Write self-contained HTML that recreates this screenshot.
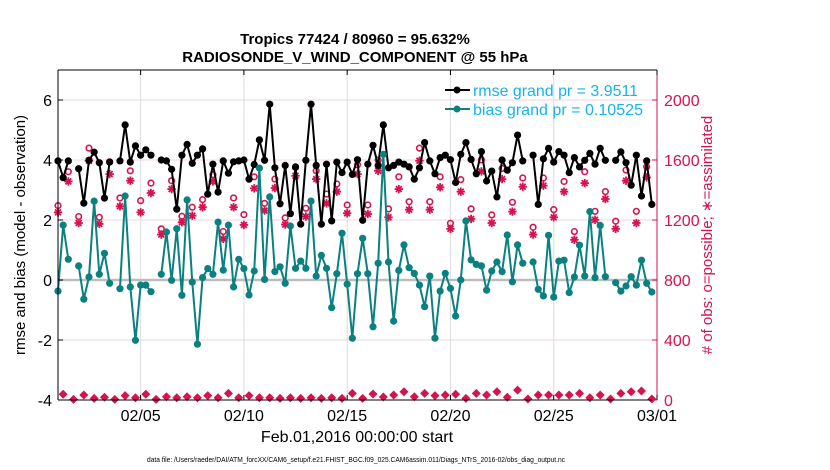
<!DOCTYPE html>
<html><head><meta charset="utf-8">
<style>
html,body{margin:0;padding:0;background:#fff;}
svg{display:block;font-family:"Liberation Sans",Arial,sans-serif;}
</style></head>
<body>
<svg id="chart" width="830" height="470" viewBox="0 0 830 470">
<g id="grid"></g>
<g id="series"></g>
<g id="axes"></g>
<text x="355" y="44" text-anchor="middle" font-size="15" font-weight="bold">Tropics 77424 / 80960 = 95.632%</text>
<text x="355" y="62" text-anchor="middle" font-size="15" font-weight="bold">RADIOSONDE_V_WIND_COMPONENT @ 55 hPa</text>
<text transform="translate(25,235) rotate(-90)" text-anchor="middle" font-size="15">rmse and bias (model - observation)</text>
<text transform="translate(712,235) rotate(-90)" text-anchor="middle" font-size="15" fill="#d6124f"># of obs: o=possible; ∗=assimilated</text>
<text x="357" y="442" text-anchor="middle" font-size="16">Feb.01,2016 00:00:00 start</text>
<text x="147" y="462" font-size="7.3" textLength="418" lengthAdjust="spacingAndGlyphs">data file: /Users/raeder/DAI/ATM_forcXX/CAM6_setup/f.e21.FHIST_BGC.f09_025.CAM6assim.011/Diags_NTrS_2016-02/obs_diag_output.nc</text>
<g>
<line x1="445" y1="90" x2="470" y2="90" stroke="#000" stroke-width="2"/>
<circle cx="457" cy="90" r="3.5" fill="#000"/>
<text x="473" y="96" font-size="16" fill="#16b4ee" textLength="165" lengthAdjust="spacingAndGlyphs">rmse grand pr = 3.9511</text>
<line x1="445" y1="109" x2="470" y2="109" stroke="#0a8080" stroke-width="2"/>
<circle cx="457" cy="109" r="3.5" fill="#0a8080"/>
<text x="473" y="115" font-size="16" fill="#16b4ee" textLength="170" lengthAdjust="spacingAndGlyphs">bias grand pr = 0.10525</text>
</g>
</svg>
<script>
const leftTicks=[-4,-2,0,2,4,6];
const rightTicks=[0,400,800,1200,1600,2000];
const dateTicks=[4,9,14,19,24,29];
const dateLabels=["02/05","02/10","02/15","02/20","02/25","03/01"];
const rmse=[3.97,3.41,3.97,null,3.71,2.56,3.99,4.26,3.91,2.73,3.93,null,3.97,5.17,3.93,4.47,4.16,4.34,4.16,null,4.0,3.97,3.69,2.36,4.16,4.52,3.89,4.16,4.37,2.86,3.86,2.93,3.97,3.56,3.94,3.97,4.0,3.36,3.85,4.67,3.99,5.86,3.74,2.54,3.82,2.21,3.77,1.86,3.99,5.86,3.82,1.86,3.86,1.97,3.93,3.58,3.93,3.52,4.01,1.99,3.86,4.49,3.82,5.17,3.74,3.82,3.93,3.86,3.77,3.36,3.74,4.58,3.97,3.54,4.08,4.16,4.01,3.25,4.19,4.58,4.02,3.54,4.28,3.3,3.63,2.77,4.0,3.66,3.91,4.83,3.97,null,4.16,2.52,4.04,4.39,3.93,4.28,4.16,3.58,4.08,3.77,3.99,4.22,3.86,4.39,3.99,null,3.99,4.27,3.91,3.16,4.16,2.8,3.97,2.52];
const bias=[-0.37,1.83,0.69,null,0.47,-0.64,0.1,2.63,0.19,0.89,-0.11,null,-0.29,2.8,-0.23,-2.01,-0.17,-0.17,-0.39,null,0.19,1.6,-0.01,1.71,-0.51,2.67,-0.07,-2.14,0.08,0.38,0.19,1.93,0.33,1.83,-0.23,0.69,0.38,-0.5,0.3,3.73,0.02,2.77,0.28,0.44,-0.11,1.8,0.39,0.63,0.39,2.63,0.13,0.82,0.39,-0.92,0.21,1.56,-0.14,-1.94,0.21,1.39,0.21,-1.56,0.56,4.19,0.6,-1.37,0.32,1.17,0.41,0.22,-0.17,-0.89,0.13,-1.94,-0.37,0.22,-0.28,-1.2,0.0,1.97,0.67,0.52,0.47,-0.34,0.3,0.6,0.28,1.5,-0.06,1.17,0.56,null,0.6,-0.31,-0.53,1.49,-0.57,0.63,0.66,-0.42,0.1,1.16,0.13,2.28,0.08,1.82,0.11,null,-0.09,-0.37,-0.2,0.11,-0.17,0.66,-0.11,-0.4];
const possible=[1296,1522,1223,1679,1218,1588,1347,1528,1329,1446,1141,1462,1225,1285,1336,1502,1123,1347,1236,1488,1311,1473,1214,1550,1278,1528,1373,1440,1300,1568,1300,1599,1274,1488,1322,1679,1322,1488,1178,1469,1274,1601,1234,1544,1318,1480,1152,1480,1269,1457,1123,1522,1258,1389,1192,1533,1258,1555];
const assimilated=[1251,1457,1180,1595,1174,1506,1291,1462,1251,1380,1103,1406,1185,1229,1285,1457,1074,1285,1167,1411,1263,1413,1170,1495,1223,1473,1311,1389,1245,1506,1240,1528,1218,1406,1269,1595,1269,1418,1141,1389,1207,1524,1180,1473,1256,1422,1103,1429,1218,1389,1068,1446,1201,1340,1141,1462,1180,1484];
const otherCounts=[38,4,33,11,18,4,29,15,38,4,22,15,22,15,29,15,44,15,29,15,15,11,15,11,15,11,15,11,44,11,40,20,33,55,22,44,29,33,38,11,44,33,55,18,66,7,33,33,33,33,44,15,33,7,44,55,60,7];

const NS='http://www.w3.org/2000/svg';
const X0=58,X1=657,Y0=70,Y1=400;
const xDay=d=>X0+(X1-X0)*d/29;
const xIdx=i=>xDay(i/4);
const yL=v=>Y1-(v+4)*(Y1-Y0)/11;
const yR=c=>Y1-c*(Y1-Y0)/2200;
const PINK='#d6124f',TEAL='#0a8080';
function mk(tag,attrs,parent){const e=document.createElementNS(NS,tag);for(const k in attrs)e.setAttribute(k,attrs[k]);parent.appendChild(e);return e;}
const grid=document.getElementById('grid'),ser=document.getElementById('series'),ax=document.getElementById('axes');

leftTicks.forEach(v=>{if(v===-4||v===0)return;
 const l=mk('line',{x1:X0,x2:X1,y1:yL(v),y2:yL(v),stroke:'#f0d4df','stroke-width':1},grid);
 
 });
dateTicks.forEach(d=>{
 const l=mk('line',{x1:xDay(d),x2:xDay(d),y1:Y0,y2:Y1,stroke:'#dcdcdc','stroke-width':1},grid);
 
 });
const zl=mk('line',{x1:X0,x2:X1,y1:yL(0),y2:yL(0),stroke:'#bdbdbd','stroke-width':2.5},grid);



function drawLine(arr,color,name){
 let segs=[],cur=[];
 arr.forEach((v,i)=>{if(v===null){if(cur.length)segs.push(cur);cur=[];}else cur.push([xIdx(i),yL(v)]);});
 if(cur.length)segs.push(cur);
 segs.forEach(s=>{const p=mk('polyline',{points:s.map(q=>q.join(',')).join(' '),fill:'none',stroke:color,'stroke-width':2,'stroke-linejoin':'round'},ser);
  
  });
 arr.forEach((v,i)=>{if(v===null)return;
  const c=mk('circle',{cx:xIdx(i),cy:yL(v),r:3.6,fill:color},ser);
  
  });
}
possible.forEach((c,k)=>{
 const e=mk('circle',{cx:xIdx(2*k),cy:yR(c),r:2.8,fill:'none',stroke:PINK,'stroke-width':1.6},ser);
 
 });
assimilated.forEach((c,k)=>{
 const x=xIdx(2*k),y=yR(c),r=4.2;
 const g=mk('g',{stroke:PINK,'stroke-width':1.8},ser);
 
 
 mk('line',{x1:x-r,x2:x+r,y1:y,y2:y},g);
 mk('line',{x1:x,x2:x,y1:y-r,y2:y+r},g);
 mk('line',{x1:x-r*0.7,x2:x+r*0.7,y1:y-r*0.7,y2:y+r*0.7},g);
 mk('line',{x1:x-r*0.7,x2:x+r*0.7,y1:y+r*0.7,y2:y-r*0.7},g);});
otherCounts.forEach((c,k)=>{
 const x=xIdx(2*k+1),y=yR(c),s=4.5;
 const p=mk('polygon',{points:`${x},${y-s} ${x+s},${y} ${x},${y+s} ${x-s},${y}`,fill:PINK},ser);
 
 });
drawLine(rmse,'#000','rmse');
drawLine(bias,TEAL,'bias');

const frame=[['line',{x1:X0,x2:X1,y1:Y0,y2:Y0,stroke:'#000'}],['line',{x1:X0,x2:X1,y1:Y1,y2:Y1,stroke:'#000'}],['line',{x1:X0,x2:X0,y1:Y0,y2:Y1,stroke:'#000'}],['line',{x1:X1,x2:X1,y1:Y0,y2:Y1,stroke:PINK}]];
frame.forEach(f=>{const e=mk(f[0],Object.assign({'stroke-width':1},f[1]),ax);
 
 });
leftTicks.forEach(v=>{
 mk('line',{x1:X0,x2:X0+5,y1:yL(v),y2:yL(v),stroke:'#000'},ax);
 const t=mk('text',{x:X0-6,y:yL(v)+6,'text-anchor':'end','font-size':16},ax);
 t.textContent=v;
 
 });
rightTicks.forEach(v=>{
 mk('line',{x1:X1-5,x2:X1,y1:yR(v),y2:yR(v),stroke:PINK},ax);
 const t=mk('text',{x:X1+7,y:yR(v)+6,'font-size':16,fill:PINK},ax);
 t.textContent=v;
 
 });
dateTicks.forEach((d,k)=>{
 mk('line',{x1:xDay(d),x2:xDay(d),y1:Y1,y2:Y1-5,stroke:'#000'},ax);
 mk('line',{x1:xDay(d),x2:xDay(d),y1:Y0,y2:Y0+5,stroke:'#000'},ax);
 const t=mk('text',{x:xDay(d),y:Y1+21,'text-anchor':'middle','font-size':16},ax);
 t.textContent=dateLabels[k];
 
 });
</script>
</body></html>
